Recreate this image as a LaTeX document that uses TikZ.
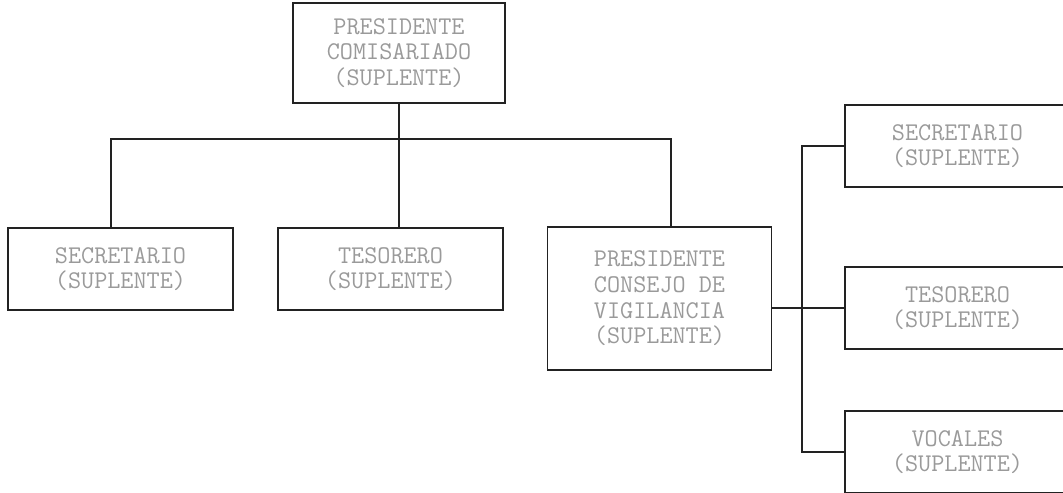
\documentclass[tikz,border=0pt]{standalone}
\usetikzlibrary{positioning}
\definecolor{txtgray}{HTML}{9A9A9A}
\definecolor{linegray}{HTML}{222222}
\tikzset{
  cargo/.style={draw=linegray, line width=0.8pt, text=txtgray, align=center,
                inner sep=0pt, minimum width=4.5cm, minimum height=1.64cm,
                font=\ttfamily\fontsize{14.5}{14.6}\selectfont},
  every picture/.style={line width=0.8pt, draw=linegray},
}

\begin{document}
\begin{tikzpicture}[x=0.02cm, y=-0.02cm]
\useasboundingbox (0,0) rectangle (1063,493);

\node[cargo, minimum width=4.24cm, minimum height=2cm](pres) at (399,53) {PRESIDENTE\\COMISARIADO\\(SUPLENTE)};
\node[cargo](sec) at (120.5,269) {SECRETARIO\\(SUPLENTE)};
\node[cargo](tes) at (390.5,269) {TESORERO\\(SUPLENTE)};
\node[cargo, minimum width=4.48cm, minimum height=2.86cm](vig) at (659.5,298.5) {PRESIDENTE\\CONSEJO DE\\VIGILANCIA\\(SUPLENTE)};
\node[cargo](secv) at (957.5,146) {SECRETARIO\\(SUPLENTE)};
\node[cargo](tesv) at (957.5,308) {TESORERO\\(SUPLENTE)};
\node[cargo](voc) at (957.5,452) {VOCALES\\(SUPLENTE)};

\coordinate (bus) at (399,139);
\coordinate (spine) at (802,308);

\draw (pres.south) -- (tes.north -| pres.south);
\draw ([xshift=-5.5]sec.north) |- (bus) -| ([xshift=6.5]vig.north);
\draw (vig.east |- spine) -- (tesv.west);
\draw (secv.west) -| (spine) |- (voc.west);

\end{tikzpicture}
\end{document}
